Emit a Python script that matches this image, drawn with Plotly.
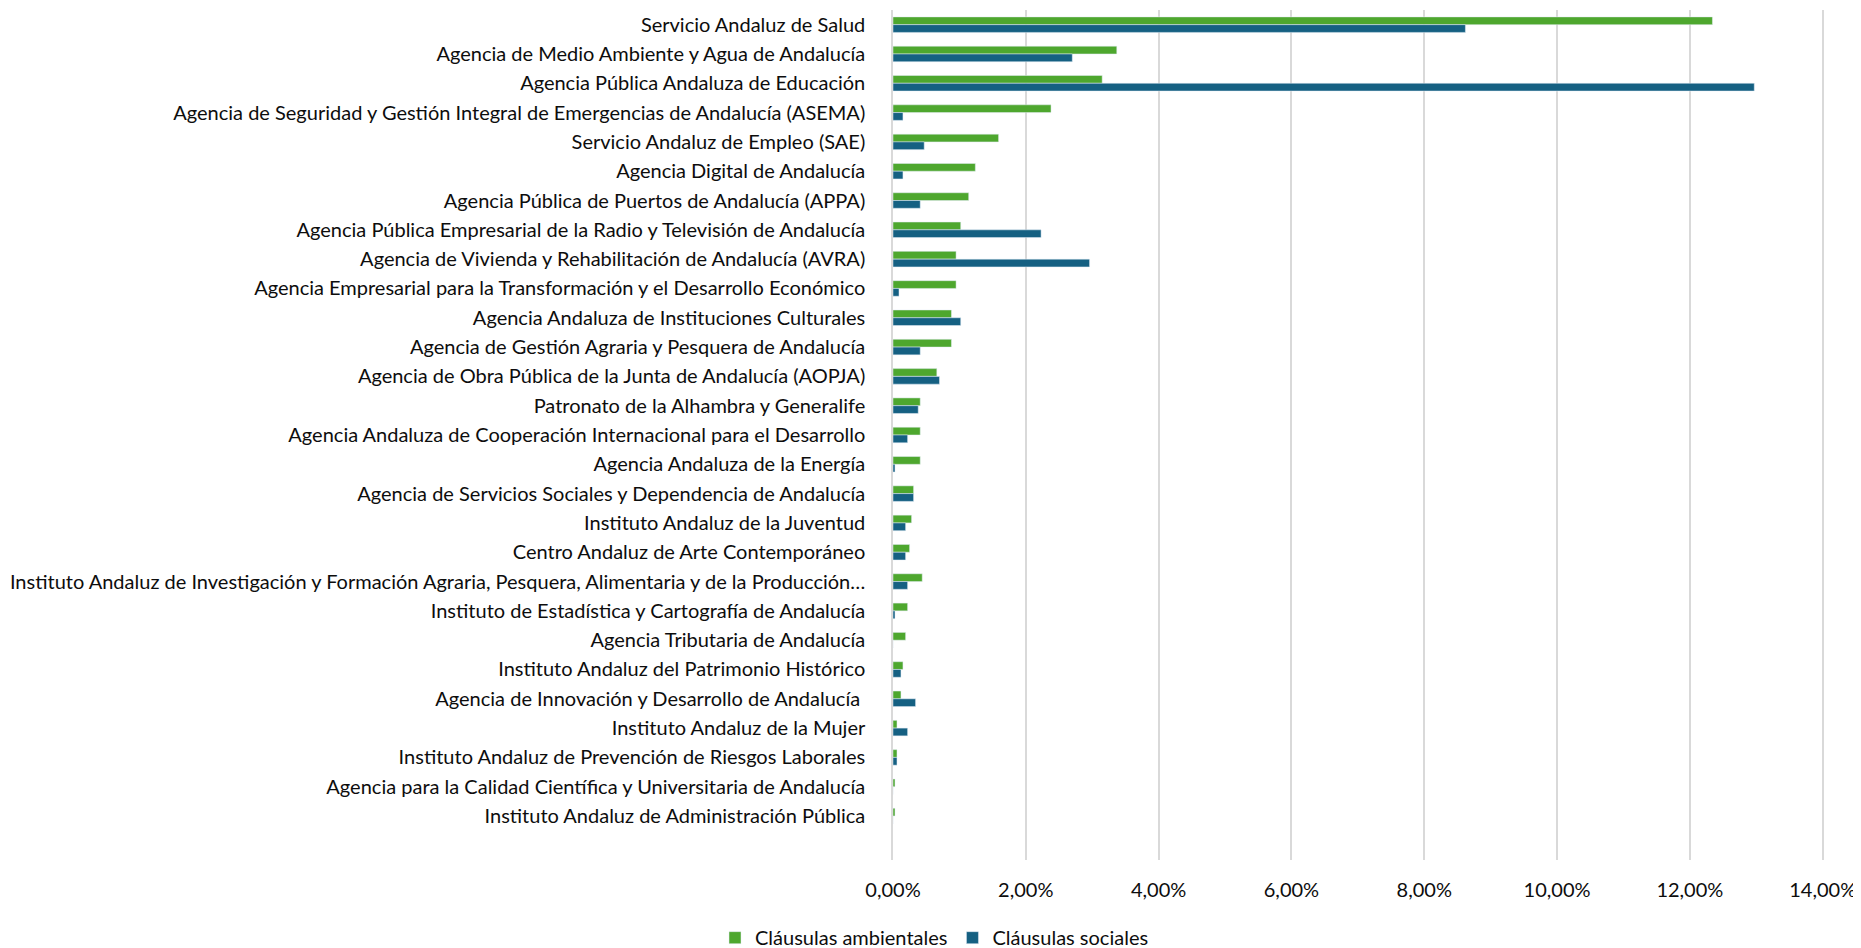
"""
Cláusulas ambientales y sociales por entidad instrumental (horizontal grouped bars).
"""

import plotly.graph_objects as go

# Entities, top to bottom
entidades = [
    "Servicio Andaluz de Salud",
    "Agencia de Medio Ambiente y Agua de Andalucía",
    "Agencia Pública Andaluza de Educación",
    "Agencia de Seguridad y Gestión Integral de Emergencias de Andalucía (ASEMA)",
    "Servicio Andaluz de Empleo (SAE)",
    "Agencia Digital de Andalucía",
    "Agencia Pública de Puertos de Andalucía (APPA)",
    "Agencia Pública Empresarial de la Radio y Televisión de Andalucía",
    "Agencia de Vivienda y Rehabilitación de Andalucía (AVRA)",
    "Agencia Empresarial para la Transformación y el Desarrollo Económico",
    "Agencia Andaluza de Instituciones Culturales",
    "Agencia de Gestión Agraria y Pesquera de Andalucía",
    "Agencia de Obra Pública de la Junta de Andalucía (AOPJA)",
    "Patronato de la Alhambra y Generalife",
    "Agencia Andaluza de Cooperación Internacional para el Desarrollo",
    "Agencia Andaluza de la Energía",
    "Agencia de Servicios Sociales y Dependencia de Andalucía",
    "Instituto Andaluz de la Juventud",
    "Centro Andaluz de Arte Contemporáneo",
    "Instituto Andaluz de Investigación y Formación Agraria, Pesquera, Alimentaria y de la Producción…",
    "Instituto de Estadística y Cartografía de Andalucía",
    "Agencia Tributaria de Andalucía",
    "Instituto Andaluz del Patrimonio Histórico",
    "Agencia de Innovación y Desarrollo de Andalucía ",
    "Instituto Andaluz de la Mujer",
    "Instituto Andaluz de Prevención de Riesgos Laborales",
    "Agencia para la Calidad Científica y Universitaria de Andalucía",
    "Instituto Andaluz de Administración Pública",
]

# Share of contracts with clauses (fraction)
ambientales = [
    0.1234, 0.0337, 0.0315, 0.0238, 0.0159, 0.0124, 0.0114, 0.0102, 0.0095, 0.0095,
    0.0088, 0.0088, 0.0066, 0.0041, 0.0041, 0.0041, 0.0031, 0.0028, 0.0025, 0.0044,
    0.0022, 0.0019, 0.0015, 0.0012, 0.0006, 0.0006, 0.0003, 0.0003,
]
sociales = [
    0.0862, 0.0270, 0.1297, 0.0015, 0.0047, 0.0015, 0.0041, 0.0223, 0.0296, 0.0009,
    0.0102, 0.0041, 0.0070, 0.0038, 0.0022, 0.0003, 0.0031, 0.0019, 0.0019, 0.0022,
    0.0003, 0.0, 0.0012, 0.0034, 0.0022, 0.0006, 0.0, 0.0,
]

x_ticks = [0, 0.02, 0.04, 0.06, 0.08, 0.10, 0.12, 0.14]
x_tick_labels = ["0,00%", "2,00%", "4,00%", "6,00%", "8,00%", "10,00%", "12,00%", "14,00%"]

VERDE = "#4EA72E"
AZUL = "#156082"
FONT = "Lato, 'Source Sans Pro', 'Noto Sans', sans-serif"
TEXT = "#0d0d0d"

fig = go.Figure()
fig.add_trace(go.Bar(
    y=entidades, x=ambientales, orientation="h",
    name="Cláusulas ambientales", marker_color=VERDE,
))
fig.add_trace(go.Bar(
    y=entidades, x=sociales, orientation="h",
    name="Cláusulas sociales", marker_color=AZUL,
))

n = len(entidades)
# page body has an 8px margin, so the figure is 8px smaller than the window
fig.update_layout(
    width=1853, height=940,
    margin=dict(l=885, r=37, t=2, b=88),
    plot_bgcolor="white", paper_bgcolor="white",
    barmode="group", bargap=0.47, bargroupgap=0,
    font=dict(family=FONT, size=20, color=TEXT),
    legend=dict(
        orientation="h", xref="container", yref="container",
        x=0.5, xanchor="center", y=0.011, yanchor="middle",
        font=dict(size=20, color=TEXT), traceorder="normal",
        itemwidth=30,
    ),
    xaxis=dict(
        range=[0, 0.1402], tickvals=x_ticks, ticktext=x_tick_labels,
        showgrid=True, gridcolor="#D9D9D9", gridwidth=1.5,
        zeroline=False, showline=False, automargin=False,
        ticks="outside", ticklen=12, tickcolor="rgba(0,0,0,0)",
        ticklabeloverflow="allow",
        tickfont=dict(size=20, color=TEXT),
    ),
    yaxis=dict(
        type="category", categoryorder="array", categoryarray=entidades,
        range=[n + 0.5, -0.5], automargin=False,
        showgrid=False, zeroline=False,
        showline=True, linecolor="#D9D9D9", linewidth=1.5,
        ticks="outside", ticklen=22, tickcolor="rgba(0,0,0,0)",
        tickfont=dict(size=20, color=TEXT),
    ),
)

fig.write_html("out.html")
